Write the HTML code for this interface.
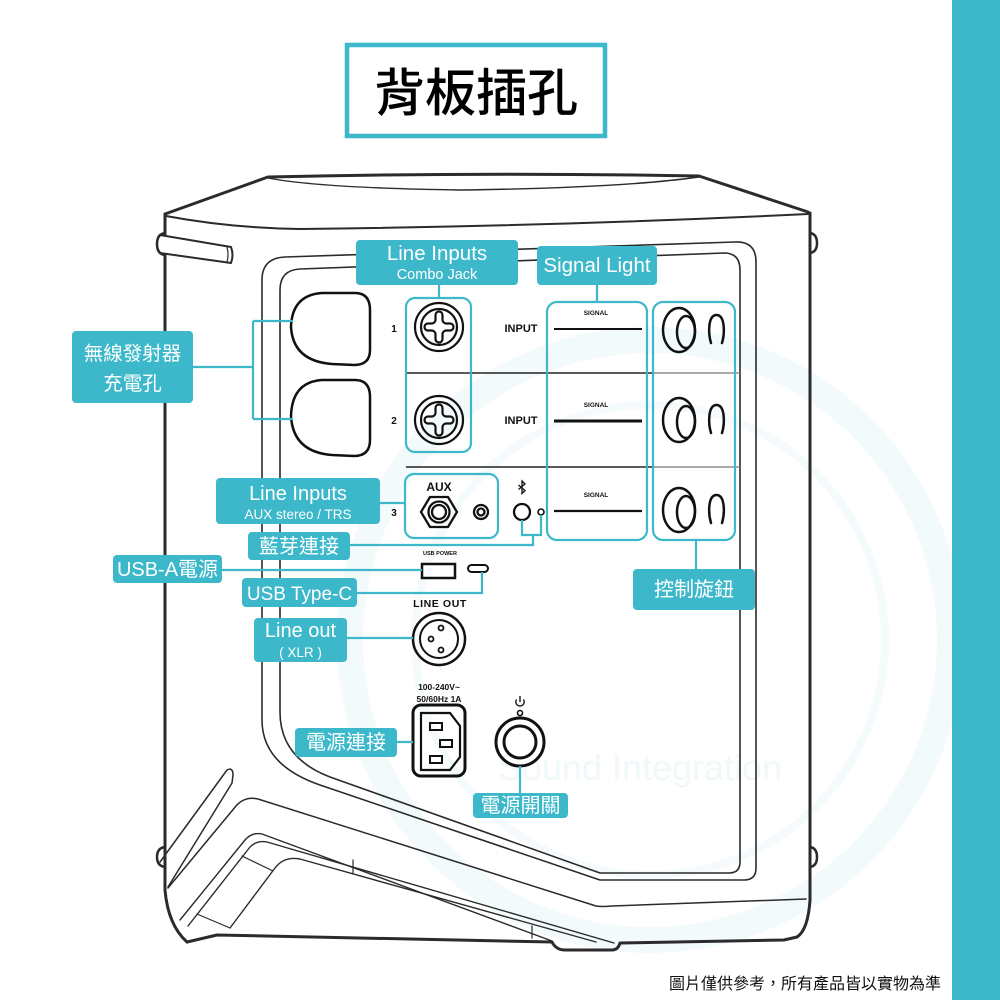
<!DOCTYPE html>
<html>
<head>
<meta charset="utf-8">
<style>
html,body{margin:0;padding:0;background:#fff;}
body{width:1000px;height:1000px;overflow:hidden;}
svg{display:block;}
.lt{font-family:"Liberation Sans","Noto Sans CJK TC",sans-serif;fill:#fff;text-anchor:middle;}
.cj{font-family:"Liberation Sans","Noto Sans CJK TC",sans-serif;fill:#fff;text-anchor:middle;}
.bk{font-family:"Liberation Sans",sans-serif;fill:#111;font-weight:bold;text-anchor:middle;}
</style>
</head>
<body>
<svg width="1000" height="1000" viewBox="0 0 1000 1000" xmlns="http://www.w3.org/2000/svg">
  <rect x="0" y="0" width="1000" height="1000" fill="#fff"/>
  <!-- faint watermark -->
  <circle cx="650" cy="640" r="300" fill="none" stroke="#f3fafb" stroke-width="26"/>
  <circle cx="650" cy="640" r="235" fill="none" stroke="#f5fbfc" stroke-width="8"/>
  <text x="640" y="780" font-family="Liberation Sans, sans-serif" font-size="36" fill="#f0f8fa" text-anchor="middle">Sound Integration</text>

  <!-- right teal strip -->
  <rect x="952" y="0" width="48" height="1000" fill="#3cb8ca"/>

  <!-- title -->
  <rect x="347" y="45" width="258" height="91" fill="#fff" stroke="#3cb8ca" stroke-width="4.5"/>
  <text x="476" y="111" font-family="'Liberation Sans','Noto Sans CJK TC',sans-serif" font-size="51" font-weight="500" fill="#000" text-anchor="middle">背板插孔</text>

  <!-- speaker body -->
  <g fill="none" stroke="#2b2b2b" stroke-linecap="round" stroke-linejoin="round">
    <path d="M165,214 L268,177 Q480,172 699,176 L808,212" stroke-width="3"/>
    <path d="M166,216 Q230,228 300,229 Q560,226 808,214" stroke-width="2"/>
    <path d="M268,178 Q320,188 460,190 Q620,188 699,177" stroke-width="1.4"/>
    <path d="M165,214 L165,890 Q168,925 187,942" stroke-width="3"/>
    <path d="M810,213 L810,900 Q808,930 797,937" stroke-width="3"/>
    <path d="M187,942 L217,935 L552,942 Q556,950 565,950 L612,950 Q618,950 620,943 L784,940 L797,937" stroke-width="3"/>
    <!-- top-left handle -->
    <path d="M160,235 L231,247 Q234,255 231,263 L160,253" stroke-width="2" fill="#fff"/>
    <path d="M165,233 Q157,234 157,244 Q157,254 165,255" stroke-width="2.5"/>
    <path d="M227,247 Q229,255 227,262" stroke-width="1.2"/>
    <!-- top-right bump -->
    <path d="M810,233 Q817,234 817,243 Q817,252 810,253" stroke-width="2.5"/>
    <!-- lower handles -->
    <path d="M160,862 L227,770 Q233,767 233,775 L232,783 L168,887" stroke-width="1.5"/>
    <path d="M165,847 Q157,848 157,857 Q157,866 165,867" stroke-width="2.5"/>
    <path d="M810,847 Q817,848 817,857 Q817,866 810,867" stroke-width="2.5"/>
    <!-- panel frame -->
    <path d="M262,280 Q262,258 285,257 L735,242 Q756,241 756,262 L756,868 Q756,880 744,880 L600,880 L320,785 Q262,765 262,720 Z" stroke-width="1.6"/>
    <path d="M280,290 Q280,270 300,269 L724,253 Q740,253 740,270 L740,862 Q740,873 729,873 L600,873 L330,777 Q280,758 280,712 Z" stroke-width="1.6"/>
    <!-- base lines -->
    <path d="M168,888 L236,806 Q245,796 258,799 L596,906 Q602,907 612,906 L806,899" stroke-width="1.5"/>
    <path d="M180,920 L245,840 Q252,832 262,834 L552,941" stroke-width="1.4"/>
    <path d="M188,926 L250,847 Q257,840 267,842 L614,943" stroke-width="1.4"/>
    <path d="M230,928 L275,868 Q284,856 300,859 L596,942" stroke-width="1.4"/>
    <path d="M242,856 L273,871 M197,914 L230,928 M353,860 L353,874 M532,926 L532,938" stroke-width="1.2"/>
  </g>

  <!-- panel dividers -->
  <g stroke="#222" stroke-width="1.4">
    <line x1="406" y1="373" x2="653" y2="373"/>
    <line x1="406" y1="467" x2="653" y2="467"/>
  </g>
  <g stroke="#777" stroke-width="1.2">
    <line x1="653" y1="373" x2="740" y2="373"/>
    <line x1="653" y1="467" x2="740" y2="467"/>
  </g>

  <!-- wireless charger holes -->
  <g fill="#fff" stroke="#111" stroke-width="2.5">
    <path d="M322,293 L355,293 Q370,293 370,310 L370,350 Q370,365 354,365 L332,364 Q293,361 291,327 Q292,295 322,293 Z"/>
    <path d="M322,380 L355,380 Q370,380 370,397 L370,440 Q370,456 354,456 L332,455 Q293,452 291,416 Q292,382 322,380 Z"/>
  </g>

  <!-- teal component boxes -->
  <g fill="none" stroke="#3cb8ca" stroke-width="2.2">
    <rect x="406" y="298" width="65" height="154" rx="9"/>
    <rect x="547" y="302" width="100" height="238" rx="10"/>
    <rect x="653" y="302" width="82" height="238" rx="10"/>
    <rect x="405" y="474" width="93" height="64" rx="9"/>
  </g>

  <!-- numbers and INPUT -->
  <text class="bk" x="394" y="332" font-size="10">1</text>
  <text class="bk" x="394" y="424" font-size="10">2</text>
  <text class="bk" x="394" y="516" font-size="10">3</text>
  <text class="bk" x="521" y="332" font-size="11">INPUT</text>
  <text class="bk" x="521" y="424" font-size="11">INPUT</text>

  <!-- combo jacks -->
  <g fill="none" stroke="#111" stroke-width="2.2">
    <circle cx="439" cy="327" r="24"/>
    <circle cx="439" cy="327" r="18"/>
    <path d="M435.5,315 A3.5,3.5 0 0 1 442.5,315 L442.5,320 A4,4 0 0 0 446,323.5 L450,323.5 A3.5,3.5 0 0 1 450,330.5 L446,330.5 A4,4 0 0 0 442.5,334 L442.5,339 A3.5,3.5 0 0 1 435.5,339 L435.5,334 A4,4 0 0 0 432,330.5 L428,330.5 A3.5,3.5 0 0 1 428,323.5 L432,323.5 A4,4 0 0 0 435.5,320 Z"/>
    <circle cx="439" cy="420" r="24"/>
    <circle cx="439" cy="420" r="18"/>
    <path d="M435.5,408 A3.5,3.5 0 0 1 442.5,408 L442.5,413 A4,4 0 0 0 446,416.5 L450,416.5 A3.5,3.5 0 0 1 450,423.5 L446,423.5 A4,4 0 0 0 442.5,427 L442.5,432 A3.5,3.5 0 0 1 435.5,432 L435.5,427 A4,4 0 0 0 432,423.5 L428,423.5 A3.5,3.5 0 0 1 428,416.5 L432,416.5 A4,4 0 0 0 435.5,413 Z"/>
  </g>

  <!-- AUX -->
  <text class="bk" x="439" y="491" font-size="12">AUX</text>
  <g fill="none" stroke="#111" stroke-width="2.3">
    <polygon points="421,512 430,497 448,497 457,512 448,527 430,527"/>
    <circle cx="439" cy="512" r="10.5"/>
    <circle cx="439" cy="512" r="7"/>
    <circle cx="481" cy="512" r="7"/>
    <circle cx="481" cy="512" r="3.5"/>
    <!-- bluetooth -->
    <circle cx="522" cy="512" r="8"/>
    <circle cx="541" cy="512" r="3" stroke-width="1.6"/>
    <path d="M518.5,485 L525,490.5 L522,493.5 L522,481 L525,484 L518.5,489.5" stroke-width="1.3"/>
  </g>

  <!-- signal -->
  <g font-family="Liberation Sans, sans-serif" font-size="6.5" font-weight="bold" fill="#111" text-anchor="middle">
    <text x="596" y="315">SIGNAL</text>
    <text x="596" y="407">SIGNAL</text>
    <text x="596" y="497">SIGNAL</text>
  </g>
  <g stroke="#111">
    <line x1="554" y1="329" x2="642" y2="329" stroke-width="2"/>
    <line x1="554" y1="421" x2="642" y2="421" stroke-width="3"/>
    <line x1="554" y1="511" x2="642" y2="511" stroke-width="2.2"/>
  </g>

  <!-- knobs -->
  <g fill="none" stroke="#111" stroke-width="2.5" stroke-linecap="round">
    <ellipse cx="679" cy="330" rx="16" ry="22"/>
    <ellipse cx="686" cy="332" rx="9" ry="16"/>
    <path d="M711,343 C708,333 708,315 716.5,315 C725,315 725,333 722,343"/>
    <ellipse cx="679" cy="420" rx="16" ry="22"/>
    <ellipse cx="686" cy="422" rx="9" ry="16"/>
    <path d="M711,433 C708,423 708,405 716.5,405 C725,405 725,423 722,433"/>
    <ellipse cx="679" cy="510" rx="16" ry="22"/>
    <ellipse cx="686" cy="512" rx="9" ry="16"/>
    <path d="M711,523 C708,513 708,495 716.5,495 C725,495 725,513 722,523"/>
  </g>

  <!-- USB -->
  <text class="bk" x="440" y="555" font-size="5.5">USB POWER</text>
  <rect x="422" y="564" width="33" height="14" fill="#fff" stroke="#111" stroke-width="2.5"/>
  <rect x="468" y="565" width="20" height="7" rx="3.5" fill="#fff" stroke="#111" stroke-width="2"/>

  <!-- LINE OUT -->
  <text class="bk" x="440" y="607" font-size="10.5" letter-spacing="0.6">LINE OUT</text>
  <g fill="none" stroke="#111" stroke-width="2.5">
    <circle cx="439" cy="639" r="26"/>
    <circle cx="439" cy="639" r="19" stroke-width="2"/>
    <circle cx="441" cy="628" r="2.5" stroke-width="1.8"/>
    <circle cx="431" cy="639" r="2.5" stroke-width="1.8"/>
    <circle cx="441" cy="650" r="2.5" stroke-width="1.8"/>
  </g>

  <!-- power -->
  <text class="bk" x="439" y="690" font-size="8.5">100-240V~</text>
  <text class="bk" x="439" y="702" font-size="8.5">50/60Hz 1A</text>
  <g fill="none" stroke="#111">
    <rect x="413" y="705" width="52" height="71" rx="8" stroke-width="3"/>
    <path d="M421,713 L450,713 L460,726 L460,757 L450,770 L421,770 Z" stroke-width="2.2"/>
    <rect x="430" y="723" width="12" height="7" stroke-width="2"/>
    <rect x="440" y="740" width="12" height="7" stroke-width="2"/>
    <rect x="430" y="756" width="12" height="7" stroke-width="2"/>
    <circle cx="520" cy="742" r="24" stroke-width="3"/>
    <circle cx="520" cy="742" r="16" stroke-width="3"/>
    <path d="M516.5,699.5 A4.2,4.2 0 1 0 523.5,699.5 M520,696 L520,702" stroke-width="1.4"/>
    <circle cx="520" cy="713" r="2.5" stroke-width="1.6"/>
  </g>

  <!-- connectors -->
  <g fill="none" stroke="#3cb8ca" stroke-width="2.2">
    <path d="M193,367 L253,367 M253,321 L253,419 M253,321 L293,321 M253,419 L293,419"/>
    <path d="M439,285 L439,298"/>
    <path d="M597,284 L597,302"/>
    <path d="M380,503 L405,503"/>
    <path d="M350,545 L533,545 L533,535 M522,520 L522,535 L541,535 L541,515"/>
    <path d="M222,570 L422,570"/>
    <path d="M357,593 L482,593 L482,572"/>
    <path d="M347,638 L413,638"/>
    <path d="M397,742 L413,742"/>
    <path d="M520,766 L520,793"/>
    <path d="M696,540 L696,569"/>
  </g>

  <!-- label boxes -->
  <g fill="#3cb8ca">
    <rect x="72" y="331" width="121" height="72" rx="4"/>
    <rect x="356" y="240" width="162" height="45" rx="4"/>
    <rect x="537" y="246" width="120" height="39" rx="4"/>
    <rect x="216" y="478" width="164" height="46" rx="4"/>
    <rect x="248" y="532" width="102" height="28" rx="4"/>
    <rect x="113" y="555" width="109" height="28" rx="4"/>
    <rect x="242" y="578" width="115" height="29" rx="4"/>
    <rect x="254" y="618" width="93" height="44" rx="4"/>
    <rect x="295" y="728" width="102" height="29" rx="4"/>
    <rect x="473" y="793" width="95" height="25" rx="4"/>
    <rect x="633" y="569" width="122" height="41" rx="4"/>
  </g>

  <!-- label texts -->
  <text class="cj" x="132.5" y="360" font-size="19.5">無線發射器</text>
  <text class="cj" x="132.5" y="390" font-size="19.5">充電孔</text>
  <text class="lt" x="437" y="260" font-size="20.5">Line Inputs</text>
  <text class="lt" x="437" y="279" font-size="14.5">Combo Jack</text>
  <text class="lt" x="597" y="272" font-size="20.5">Signal Light</text>
  <text class="lt" x="298" y="500" font-size="20">Line Inputs</text>
  <text class="lt" x="298" y="519" font-size="13.5">AUX stereo / TRS</text>
  <text class="cj" x="299" y="553" font-size="20">藍芽連接</text>
  <text class="cj" x="167.5" y="576" font-size="20">USB-A電源</text>
  <text class="lt" x="299.5" y="600" font-size="19">USB Type-C</text>
  <text class="lt" x="300.5" y="637" font-size="20">Line out</text>
  <text class="lt" x="300.5" y="657" font-size="13.5">( XLR )</text>
  <text class="cj" x="346" y="749" font-size="20">電源連接</text>
  <text class="cj" x="520.5" y="812" font-size="20">電源開關</text>
  <text class="cj" x="694" y="596" font-size="20">控制旋鈕</text>

  <!-- footer note -->
  <text x="805" y="989" font-family="'Liberation Sans','Noto Sans CJK TC',sans-serif" font-size="16" fill="#111" text-anchor="middle">圖片僅供參考，所有產品皆以實物為準</text>
</svg>
</body>
</html>
